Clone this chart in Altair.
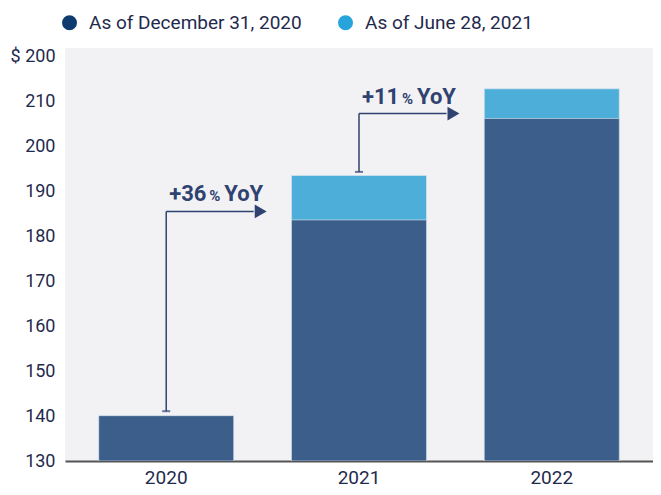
import altair as alt
import pandas as pd

# ---- data ----
years = ["2020", "2021", "2022"]
dec_2020 = [140.1, 183.7, 206.3]          # As of December 31, 2020
jun_2021 = [None, 193.6, 212.9]           # As of June 28, 2021
series_names = ["As of December 31, 2020", "As of June 28, 2021"]
bar_colors = ["#3b5f8a", "#4daed9"]
legend_colors = ["#0e3b6e", "#27a4dc"]

y_ticks = [130, 140, 150, 160, 170, 180, 190, 200, 210, 220]
y_tick_labels = ["130", "140", "150", "160", "170", "180", "190", "200", "210", "$ 200"]

ann_years = ["2020", "2021"]
ann_low = [141.1, 194.4]
ann_high = [185.6, 207.4]
ann_pct = ["+36", "+11"]

TEXT = "#1f2a4d"
ANN = "#2f4270"

# ---- tables ----
rows = []
for y, v in zip(years, jun_2021):
    if v is not None:
        rows.append({"year": y, "series": series_names[1], "value": v})
for y, v in zip(years, dec_2020):
    rows.append({"year": y, "series": series_names[0], "value": v})
bars_df = pd.DataFrame(rows)

ann_df = pd.DataFrame({"year": ann_years, "low": ann_low, "high": ann_high,
                       "pct": ann_pct, "pc": ["%"] * 2, "yoy": ["YoY"] * 2})
legend_df = pd.DataFrame({"year": ["2020", "2020"], "series": series_names,
                          "value": [150, 150]})

label_expr = "{" + ", ".join(f"'{t}': '{l}'" for t, l in zip(y_ticks, y_tick_labels)) + "}[datum.value]"

x_scale = alt.Scale(paddingInner=0.3, paddingOuter=0.175)
y_scale = alt.Scale(domain=[130, 222], nice=False, zero=False)

x_enc = alt.X("year:N", scale=x_scale, sort=years, title=None,
              axis=alt.Axis(labelAngle=0, ticks=False, domainColor="#555555",
                            domainWidth=2, labelFontSize=19, labelColor=TEXT,
                            labelPadding=7, labelFont="Roboto"))
y_axis = alt.Axis(values=y_ticks, labelExpr=label_expr, ticks=False, domain=False,
                  grid=False, labelFontSize=18, labelColor=TEXT, labelPadding=10,
                  labelFont="Roboto")

bars = alt.Chart(bars_df).mark_bar(clip=True, stroke="#dfe6ee", strokeWidth=1,
                                   strokeOpacity=0.6).encode(
    x=x_enc,
    y=alt.Y("value:Q", scale=y_scale, stack=None, title=None, axis=y_axis),
    color=alt.Color("series:N", scale=alt.Scale(domain=series_names, range=bar_colors),
                    legend=None),
)

legend_layer = alt.Chart(legend_df).mark_point(filled=True, opacity=0, size=0).encode(
    x=alt.X("year:N", sort=years),
    y=alt.Y("value:Q"),
    fill=alt.Fill("series:N", scale=alt.Scale(domain=series_names, range=legend_colors),
                  legend=alt.Legend(title=None, orient="none", direction="horizontal",
                                    legendX=-5, legendY=-35, symbolType="circle",
                                    symbolSize=225, symbolOpacity=1, symbolStrokeWidth=0,
                                    labelFontSize=19, labelColor=TEXT, labelFont="Roboto",
                                    labelLimit=0, columnPadding=34, labelOffset=10,
                                    padding=0)),
)

base = alt.Chart(ann_df)
vline = base.mark_rule(color=ANN, strokeWidth=1.5).encode(
    x=alt.X("year:N", sort=years), y="low:Q", y2="high:Q")
cap = base.mark_tick(color=ANN, size=8, thickness=2).encode(
    x=alt.X("year:N", sort=years), y="low:Q")
hline = base.mark_rule(color=ANN, strokeWidth=1.5, x2Offset=20).encode(
    x=alt.X("year:N", sort=years, bandPosition=0.5),
    x2=alt.X2("year", bandPosition=1),
    y="high:Q")
head = base.mark_point(shape="triangle-right", filled=True, opacity=1, color=ANN,
                       size=190, xOffset=27).encode(
    x=alt.X("year:N", sort=years, bandPosition=1), y="high:Q")
t_num = base.mark_text(align="left", baseline="alphabetic", dx=3, dy=-10, fontSize=22,
                       fontWeight="bold", font="Roboto", color=ANN).encode(
    x=alt.X("year:N", sort=years, bandPosition=0.5), y="high:Q", text="pct:N")
t_pc = base.mark_text(align="left", baseline="alphabetic", dx=43, dy=-10, fontSize=15,
                      fontWeight="bold", font="Roboto", color=ANN).encode(
    x=alt.X("year:N", sort=years, bandPosition=0.5), y="high:Q", text="pc:N")
t_yoy = base.mark_text(align="left", baseline="alphabetic", dx=58, dy=-10, fontSize=22,
                       fontWeight="bold", font="Roboto", color=ANN).encode(
    x=alt.X("year:N", sort=years, bandPosition=0.5), y="high:Q", text="yoy:N")

chart = alt.layer(bars, legend_layer, vline, cap, hline, head, t_num, t_pc, t_yoy).properties(
    width=588, height=413, autosize="none",
    padding={"left": 57, "top": 40, "right": 0, "bottom": 26},
).resolve_scale(color="independent").configure_view(fill="#f2f2f5", stroke=None)

chart.save("out.html", embed_options={"renderer": "svg", "actions": False})
